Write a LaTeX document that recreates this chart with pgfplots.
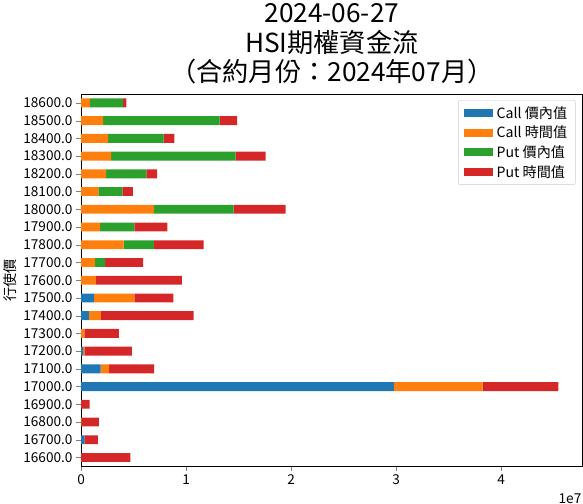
\documentclass[border=0pt]{standalone}
\usepackage{pgfplots}
\pgfplotsset{compat=1.18}
\usepackage{fontspec}
\setmainfont{Noto Sans CJK TC}
\definecolor{tabblue}{HTML}{1F77B4}
\definecolor{taborange}{HTML}{FF7F0E}
\definecolor{tabgreen}{HTML}{2CA02C}
\definecolor{tabred}{HTML}{D62728}
\begin{document}
\begin{tikzpicture}
\begin{axis}[
  scale only axis,
  width=497pt, height=369pt,
  xbar stacked,
  bar width=0.5,
  xmin=0, xmax=4.776,
  ymin=-0.5, ymax=20.5,
  xtick={0,1,2,3,4},
  ytick={0,...,20},
  yticklabels={16600.0,16700.0,16800.0,16900.0,17000.0,17100.0,17200.0,17300.0,17400.0,17500.0,17600.0,17700.0,17800.0,17900.0,18000.0,18100.0,18200.0,18300.0,18400.0,18500.0,18600.0},
  xtick pos=bottom, ytick pos=left,
  tick align=outside,
  major tick length=5pt,
  minor tick num=0,
  /pgf/number format/assume math mode=true,
  tick label style={font=\fontsize{13.5}{15}\selectfont},
  ylabel={行使價},
  ylabel style={font=\fontsize{14}{16}\selectfont, yshift=0pt},
  title={2024-06-27\\HSI期權資金流\\（合約月份：2024年07月）},
  title style={align=center, font=\fontsize{26}{29.5}\selectfont, yshift=0pt},
  axis line style={line width=0.9pt},
  legend style={at={(0.986,0.984)}, anchor=north east, draw=black!20, rounded corners=2pt,
    font=\fontsize{14}{16}\selectfont, row sep=2.2pt, inner xsep=6pt, inner ysep=4pt,
    /tikz/every even column/.append style={column sep=8pt},
    /tikz/every odd column/.append style={column sep=2pt}},
  legend cell align=left,
  legend image code/.code={\fill[#1, sharp corners] (0pt,-4pt) rectangle (28pt,4pt);},
  clip=false,
]
\addplot[fill=tabblue, draw=none] coordinates {
(0,0) (0.03,1) (0,2) (0,3) (2.978,4) (0.186,5) (0.02,6) (0,7) (0.074,8) (0.122,9)
(0,10) (0,11) (0,12) (0,13) (0,14) (0,15) (0,16) (0,17) (0,18) (0,19) (0,20)};
\addlegendentry{Call 價內值}
\addplot[fill=taborange, draw=none] coordinates {
(0,0) (0,1) (0.005,2) (0,3) (0.846,4) (0.08,5) (0.01,6) (0.03,7) (0.115,8) (0.385,9)
(0.141,10) (0.132,11) (0.404,12) (0.18,13) (0.692,14) (0.164,15) (0.237,16) (0.286,17) (0.257,18) (0.21,19) (0.084,20)};
\addlegendentry{Call 時間值}
\addplot[fill=tabgreen, draw=none] coordinates {
(0,0) (0,1) (0,2) (0,3) (0,4) (0,5) (0,6) (0,7) (0,8) (0,9)
(0,10) (0.096,11) (0.288,12) (0.327,13) (0.76,14) (0.23,15) (0.385,16) (1.185,17) (0.529,18) (1.11,19) (0.316,20)};
\addlegendentry{Put 價內值}
\addplot[fill=tabred, draw=none] coordinates {
(0.468,0) (0.13,1) (0.165,2) (0.08,3) (0.721,4) (0.43,5) (0.454,6) (0.329,7) (0.882,8) (0.371,9)
(0.818,10) (0.362,11) (0.475,12) (0.314,13) (0.497,14) (0.10,15) (0.103,16) (0.286,17) (0.102,18) (0.165,19) (0.03,20)};
\addlegendentry{Put 時間值}
\node[anchor=north east, font=\fontsize{13.5}{15}\selectfont, inner sep=0pt] at ([yshift=-27pt, xshift=-1pt]rel axis cs:1,0) {1e7};
\end{axis}
\end{tikzpicture}
\end{document}
